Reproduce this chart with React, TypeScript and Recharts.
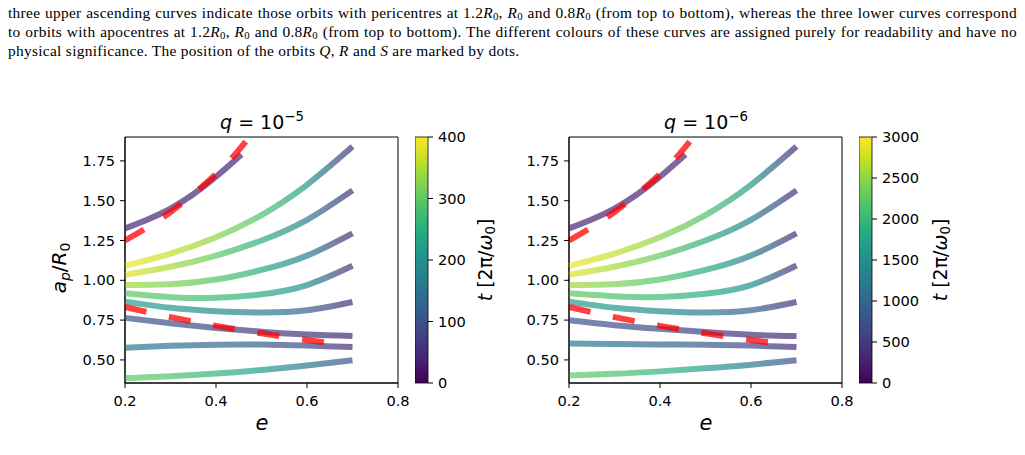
import React from 'react';
import { LineChart, Line, XAxis, YAxis, ReferenceArea, BarChart, Bar } from 'recharts';

// sample eccentricities along the curves
const eFull = [0.2, 0.3, 0.4, 0.5, 0.6, 0.7];
const eShort = [0.2, 0.25, 0.3, 0.35, 0.4, 0.456];
const ePeri = [0.2, 0.3, 0.4, 0.45, 0.48];
const eApo = [0.2, 0.3, 0.4, 0.5, 0.6, 0.66];

const xTicks = [0.2, 0.4, 0.6, 0.8];
const yTicks = [0.5, 0.75, 1.0, 1.25, 1.5, 1.75];
const cbTicksL = [0, 100, 200, 300, 400];
const cbTicksR = [0, 500, 1000, 1500, 2000, 2500, 3000];

// dashed reference curves (same in both panels)
const aPeri = [1.25, 1.429, 1.667, 1.818, 1.923];
const aApo = [0.833, 0.769, 0.714, 0.667, 0.625, 0.602];

// q = 1e-5, a_p/R_0 along each curve (top to bottom)
const a1L = [1.326, 1.382, 1.45, 1.54, 1.65, 1.79];
const a2L = [1.09, 1.168, 1.27, 1.41, 1.6, 1.84];
const a3L = [1.035, 1.085, 1.155, 1.25, 1.38, 1.565];
const a4L = [0.97, 0.975, 1.005, 1.065, 1.155, 1.295];
const a5L = [0.918, 0.894, 0.89, 0.912, 0.97, 1.091];
const a6L = [0.866, 0.827, 0.806, 0.798, 0.812, 0.864];
const a7L = [0.764, 0.73, 0.701, 0.677, 0.659, 0.65];
const a8L = [0.577, 0.589, 0.596, 0.597, 0.59, 0.581];
const a9L = [0.386, 0.397, 0.414, 0.437, 0.465, 0.498];

// q = 1e-5, time t along each curve
const t1L = [40, 40, 40, 40, 40, 40];
const t2L = [392, 365, 330, 285, 215, 55];
const t3L = [385, 345, 300, 250, 170, 55];
const t4L = [345, 320, 290, 245, 170, 50];
const t5L = [300, 285, 270, 245, 195, 55];
const t6L = [225, 210, 190, 160, 125, 50];
const t7L = [105, 95, 85, 70, 55, 45];
const t8L = [160, 150, 135, 115, 85, 50];
const t9L = [300, 285, 260, 220, 160, 95];

// q = 1e-6
const a1R = [1.326, 1.382, 1.45, 1.54, 1.65, 1.79];
const a2R = [1.09, 1.168, 1.27, 1.41, 1.6, 1.84];
const a3R = [1.035, 1.085, 1.155, 1.25, 1.38, 1.565];
const a4R = [0.97, 0.975, 1.005, 1.065, 1.155, 1.295];
const a5R = [0.918, 0.9, 0.895, 0.915, 0.97, 1.093];
const a6R = [0.866, 0.827, 0.806, 0.798, 0.812, 0.864];
const a7R = [0.749, 0.718, 0.695, 0.675, 0.658, 0.65];
const a8R = [0.603, 0.6, 0.597, 0.596, 0.59, 0.581];
const a9R = [0.403, 0.413, 0.428, 0.447, 0.47, 0.498];

const t1R = [300, 300, 300, 300, 300, 300];
const t2R = [2940, 2740, 2480, 2140, 1610, 410];
const t3R = [2890, 2590, 2250, 1880, 1280, 410];
const t4R = [2590, 2400, 2180, 1840, 1280, 380];
const t5R = [2250, 2140, 2030, 1840, 1460, 410];
const t6R = [1690, 1580, 1430, 1200, 940, 380];
const t7R = [790, 710, 640, 530, 410, 340];
const t8R = [1200, 1120, 1010, 860, 640, 380];
const t9R = [2250, 2140, 1950, 1650, 1200, 710];

const VIRIDIS = ['#440154', '#482475', '#414487', '#355f8d', '#2a788e', '#21918c', '#22a884', '#44bf70', '#7ad151', '#bddf26', '#fde725'];

function hexRgb(h: string) {
  return [1, 3, 5].map((i) => parseInt(h.slice(i, i + 2), 16));
}

function viridis(f: number, alpha = 1) {
  const x = Math.min(1, Math.max(0, f)) * 10;
  const i = Math.min(9, Math.floor(x));
  const u = x - i;
  const c0 = hexRgb(VIRIDIS[i]);
  const c1 = hexRgb(VIRIDIS[i + 1]);
  const rgb = c0.map((v, k) => Math.round((v + (c1[k] - v) * u) * alpha + 255 * (1 - alpha)));
  return `rgb(${rgb.join(',')})`;
}

type Curve = { e: number[]; a: number[]; t: number[] };

const curvesL: Curve[] = [
  { e: eShort, a: a1L, t: t1L },
  { e: eFull, a: a2L, t: t2L },
  { e: eFull, a: a3L, t: t3L },
  { e: eFull, a: a4L, t: t4L },
  { e: eFull, a: a5L, t: t5L },
  { e: eFull, a: a6L, t: t6L },
  { e: eFull, a: a7L, t: t7L },
  { e: eFull, a: a8L, t: t8L },
  { e: eFull, a: a9L, t: t9L },
];

const curvesR: Curve[] = [
  { e: eShort, a: a1R, t: t1R },
  { e: eFull, a: a2R, t: t2R },
  { e: eFull, a: a3R, t: t3R },
  { e: eFull, a: a4R, t: t4R },
  { e: eFull, a: a5R, t: t5R },
  { e: eFull, a: a6R, t: t6R },
  { e: eFull, a: a7R, t: t7R },
  { e: eFull, a: a8R, t: t8R },
  { e: eFull, a: a9R, t: t9R },
];

const pts = (e: number[], a: number[]) => e.map((v, k) => ({ e: v, a: a[k] }));

const FONT = '"DejaVu Sans", sans-serif';
const tickStyle = { fontSize: 14.6, fill: '#000', fontFamily: FONT };
const sub = { fontSize: '0.7em', verticalAlign: '-0.25em', lineHeight: 0 } as const;
const sup = { fontSize: '0.7em', verticalAlign: '0.55em', lineHeight: 0 } as const;

function Label({ x, y, rotate, size = 20, children }: any) {
  return (
    <div
      style={{
        position: 'absolute',
        left: x,
        top: y,
        transform: `translate(-50%, -50%)${rotate ? ' rotate(-90deg)' : ''}`,
        fontFamily: FONT,
        fontSize: size,
        whiteSpace: 'nowrap',
        lineHeight: 1,
      }}
    >
      {children}
    </div>
  );
}

function Panel({ id, left, curves, tMax, cbTicks, exp, yLabel, cbLabelX }: any) {
  return (
    <>
      <div style={{ position: 'absolute', left, top: 90 }}>
        <LineChart width={420} height={340} margin={{ top: 47, right: 22, bottom: 7, left: 65 }}>
          <defs>
            {curves.map((c: Curve, i: number) => (
              <linearGradient key={i} id={`${id}-g${i}`} x1="0" y1="0" x2="1" y2="0">
                {c.e.map((e, k) => (
                  <stop
                    key={k}
                    offset={(e - c.e[0]) / (c.e[c.e.length - 1] - c.e[0])}
                    stopColor={viridis(c.t[k] / tMax, 0.7)}
                  />
                ))}
              </linearGradient>
            ))}
          </defs>
          <XAxis
            type="number"
            dataKey="e"
            domain={[0.2, 0.8]}
            ticks={xTicks}
            tickFormatter={(v) => v.toFixed(1)}
            height={40}
            tick={tickStyle}
            tickLine={{ stroke: '#000' }}
            axisLine={{ stroke: '#000' }}
            tickSize={5}
            tickMargin={8}
          />
          <YAxis
            type="number"
            domain={[0.355, 1.9]}
            allowDataOverflow
            ticks={yTicks}
            tickFormatter={(v) => v.toFixed(2)}
            width={60}
            tick={tickStyle}
            tickLine={{ stroke: '#000' }}
            axisLine={{ stroke: '#000' }}
            tickSize={5}
            tickMargin={5}
          />
          <ReferenceArea x1={0.2} x2={0.8} y1={0.355} y2={1.9} fill="none" stroke="#000" strokeWidth={1} />
          {curves.map((c: Curve, i: number) => (
            <Line
              key={i}
              data={pts(c.e, c.a)}
              dataKey="a"
              type="natural"
              stroke={`url(#${id}-g${i})`}
              strokeWidth={6}
              dot={false}
              activeDot={false}
              isAnimationActive={false}
            />
          ))}
          <Line data={pts(ePeri, aPeri)} dataKey="a" type="natural" stroke="#ff0000" strokeOpacity={0.75} strokeWidth={6} strokeDasharray="22 23" dot={false} activeDot={false} isAnimationActive={false} />
          <Line data={pts(eApo, aApo)} dataKey="a" type="natural" stroke="#ff0000" strokeOpacity={0.75} strokeWidth={6} strokeDasharray="22 23" dot={false} activeDot={false} isAnimationActive={false} />
        </LineChart>
      </div>
      <div style={{ position: 'absolute', left: left + 415, top: 90 }}>
        <BarChart width={73} height={340} data={[{ k: 'cb', v: tMax }]} margin={{ top: 47, right: 0, bottom: 47, left: 0 }} barCategoryGap={0}>
          <defs>
            <linearGradient id={`${id}-cb`} x1="0" y1="1" x2="0" y2="0">
              {VIRIDIS.map((c, i) => (
                <stop key={i} offset={i / 10} stopColor={c} />
              ))}
            </linearGradient>
          </defs>
          <XAxis dataKey="k" hide />
          <YAxis
            orientation="right"
            width={60}
            domain={[0, tMax]}
            ticks={cbTicks}
            axisLine={false}
            tickLine={{ stroke: '#000' }}
            tickSize={5}
            tickMargin={5}
            tick={tickStyle}
          />
          <Bar dataKey="v" fill={`url(#${id}-cb)`} stroke="#000" strokeWidth={0.8} isAnimationActive={false} />
        </BarChart>
      </div>
      <Label x={left + 262} y={122} size={19}>
        <i>q</i> = 10<span style={sup}>−{exp}</span>
      </Label>
      <Label x={left + 262} y={423} size={21}>
        <i>e</i>
      </Label>
      {yLabel && (
        <Label x={left + 59} y={268} rotate size={20}>
          <i>a</i>
          <span style={sub}>
            <i>p</i>
          </span>
          /<i>R</i>
          <span style={sub}>0</span>
        </Label>
      )}
      <Label x={left + cbLabelX} y={260} rotate size={19}>
        <i>t</i> [2π/<i>ω</i>
        <span style={sub}>0</span>]
      </Label>
    </>
  );
}

const R0 = () => (
  <>
    <i>R</i>
    <span style={{ fontSize: '0.7em', verticalAlign: '-0.2em', lineHeight: 0 }}>0</span>
  </>
);

const lineStyle = { textAlign: 'justify', textAlignLast: 'justify' } as const;

export default function App() {
  return (
    <div style={{ position: 'absolute', left: 0, top: 0, width: 1025, height: 455, background: '#fff', overflow: 'hidden' }}>
      <div
        style={{
          position: 'absolute',
          left: 8,
          top: 3,
          width: 1009,
          fontFamily: '"Liberation Serif", serif',
          fontSize: 15.4,
          letterSpacing: '0.3px',
          lineHeight: '19px',
          color: '#000',
        }}
      >
        <div style={lineStyle}>
          three upper ascending curves indicate those orbits with pericentres at 1.2<R0 />, <R0 /> and 0.8<R0 /> (from top to bottom), whereas the three lower curves correspond
        </div>
        <div style={lineStyle}>
          to orbits with apocentres at 1.2<R0 />, <R0 /> and 0.8<R0 /> (from top to bottom). The different colours of these curves are assigned purely for readability and have no
        </div>
        <div>
          physical significance. The position of the orbits <i>Q</i>, <i>R</i> and <i>S</i> are marked by dots.
        </div>
      </div>
      <Panel id="l" left={0} curves={curvesL} tMax={400} cbTicks={cbTicksL} exp={5} yLabel cbLabelX={485} />
      <Panel id="r" left={444} curves={curvesR} tMax={3000} cbTicks={cbTicksR} exp={6} yLabel={false} cbLabelX={496} />
    </div>
  );
}
